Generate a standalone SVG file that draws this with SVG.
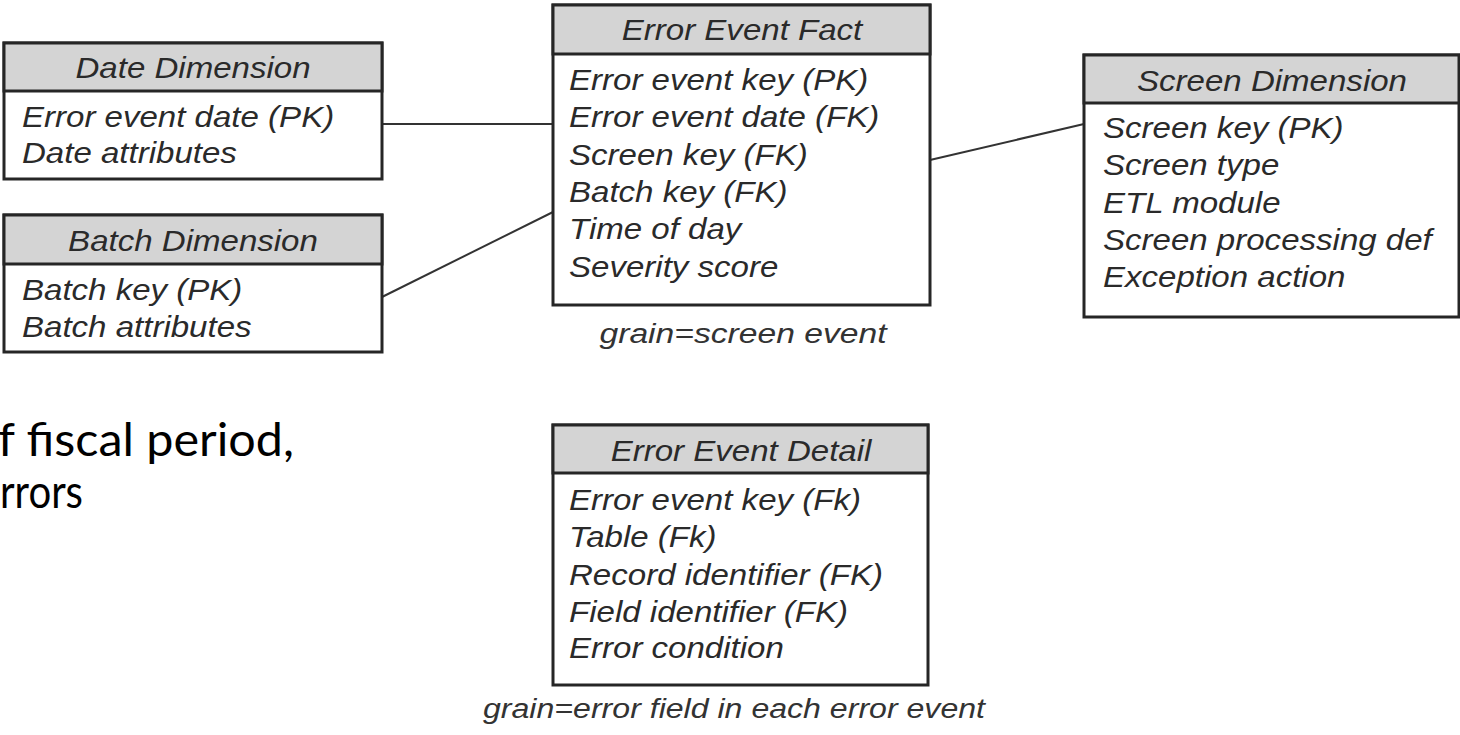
<svg xmlns="http://www.w3.org/2000/svg" width="1460" height="735" viewBox="0 0 1460 735">
  <style>
    .box { fill: #ffffff; stroke: #262626; stroke-width: 3; }
    .head { fill: #d4d4d4; stroke: #262626; stroke-width: 3; }
    .t { font-family: "Liberation Sans", Arial, sans-serif; font-style: italic; font-size: 29px; fill: #2a2a2a; }
    .h { text-anchor: middle; }
    .grain { font-family: "Liberation Sans", Arial, sans-serif; font-style: italic; font-size: 27px; fill: #333333; text-anchor: middle; }
    .link { stroke: #333333; stroke-width: 2; fill: none; }
    .note { font-family: "Lato", "Open Sans", sans-serif; font-size: 46px; fill: #000000; }
  </style>

  <rect width="1460" height="735" fill="#ffffff"/>

  <!-- side note text -->
  <g id="note">
    <text class="note" x="-2" y="456" textLength="296" lengthAdjust="spacingAndGlyphs">f fiscal period,</text>
    <text class="note" x="0" y="508" textLength="83" lengthAdjust="spacingAndGlyphs">rrors</text>
  </g>

  <!-- relationships -->
  <g id="connectors">
    <line class="link" x1="382" y1="124" x2="553" y2="124"/>
    <line class="link" x1="382" y1="297" x2="553" y2="212"/>
    <line class="link" x1="930" y1="160" x2="1084" y2="124"/>
  </g>

  <g id="date-dimension">
    <rect class="box" x="4" y="43" width="378" height="136"/>
    <rect class="head" x="4" y="43" width="378" height="48"/>
    <text class="t h" transform="translate(193,78) scale(1.14,1)">Date Dimension</text>
    <text class="t" transform="translate(22,127) scale(1.14,1)">Error event date (PK)</text>
    <text class="t" transform="translate(22,163) scale(1.14,1)">Date attributes</text>
  </g>

  <g id="batch-dimension">
    <rect class="box" x="4" y="215" width="378" height="137"/>
    <rect class="head" x="4" y="215" width="378" height="49"/>
    <text class="t h" transform="translate(193,251) scale(1.14,1)">Batch Dimension</text>
    <text class="t" transform="translate(22,300) scale(1.14,1)">Batch key (PK)</text>
    <text class="t" transform="translate(22,337) scale(1.14,1)">Batch attributes</text>
  </g>

  <g id="error-event-fact">
    <rect class="box" x="553" y="5" width="377" height="300"/>
    <rect class="head" x="553" y="5" width="377" height="49"/>
    <text class="t h" transform="translate(742,40) scale(1.14,1)">Error Event Fact</text>
    <text class="t" transform="translate(569,90) scale(1.14,1)">Error event key (PK)</text>
    <text class="t" transform="translate(569,127) scale(1.14,1)">Error event date (FK)</text>
    <text class="t" transform="translate(569,165) scale(1.14,1)">Screen key (FK)</text>
    <text class="t" transform="translate(569,202) scale(1.14,1)">Batch key (FK)</text>
    <text class="t" transform="translate(569,239) scale(1.14,1)">Time of day</text>
    <text class="t" transform="translate(569,277) scale(1.14,1)">Severity score</text>
    <text class="grain" x="743" y="343" textLength="287" lengthAdjust="spacingAndGlyphs">grain=screen event</text>
  </g>

  <g id="screen-dimension">
    <rect class="box" x="1084" y="55" width="375" height="262"/>
    <rect class="head" x="1084" y="55" width="375" height="48"/>
    <text class="t h" transform="translate(1272,91) scale(1.14,1)">Screen Dimension</text>
    <text class="t" transform="translate(1103,138) scale(1.14,1)">Screen key (PK)</text>
    <text class="t" transform="translate(1103,175) scale(1.14,1)">Screen type</text>
    <text class="t" transform="translate(1103,213) scale(1.14,1)">ETL module</text>
    <text class="t" transform="translate(1103,250) scale(1.14,1)">Screen processing def</text>
    <text class="t" transform="translate(1103,287) scale(1.14,1)">Exception action</text>
  </g>

  <g id="error-event-detail">
    <rect class="box" x="553" y="425" width="375" height="260"/>
    <rect class="head" x="553" y="425" width="375" height="48"/>
    <text class="t h" transform="translate(741,461) scale(1.14,1)">Error Event Detail</text>
    <text class="t" transform="translate(569,510) scale(1.14,1)">Error event key (Fk)</text>
    <text class="t" transform="translate(569,547) scale(1.14,1)">Table (Fk)</text>
    <text class="t" transform="translate(569,585) scale(1.14,1)">Record identifier (FK)</text>
    <text class="t" transform="translate(569,622) scale(1.14,1)">Field identifier (FK)</text>
    <text class="t" transform="translate(569,658) scale(1.14,1)">Error condition</text>
    <text class="grain" x="734" y="718" textLength="502" lengthAdjust="spacingAndGlyphs">grain=error field in each error event</text>
  </g>
</svg>
